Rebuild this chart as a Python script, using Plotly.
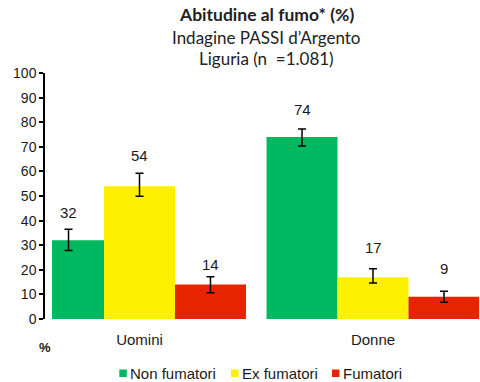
import plotly.graph_objects as go

# Data
groups = ["Uomini", "Donne"]
series = ["Non fumatori", "Ex fumatori", "Fumatori"]
values = {
    "Non fumatori": [32, 74],
    "Ex fumatori": [54, 17],
    "Fumatori": [14, 9],
}
ci_low = {
    "Non fumatori": [27.8, 70.3],
    "Ex fumatori": [49.9, 14.6],
    "Fumatori": [10.7, 6.8],
}
ci_high = {
    "Non fumatori": [36.5, 77.2],
    "Ex fumatori": [59.2, 20.4],
    "Fumatori": [17.2, 11.3],
}
y_ticks = [0, 10, 20, 30, 40, 50, 60, 70, 80, 90, 100]

colors = {
    "Non fumatori": "rgb(0,184,96)",
    "Ex fumatori": "rgb(255,240,0)",
    "Fumatori": "rgb(230,36,0)",
}

W, H = 480, 382
ML, MR, MT, MB = 44, 1, 73, 63
PW, PH = W - ML - MR, H - MT - MB


def px(x):
    return (x - ML) / PW


def py(y):
    return (H - MB - y) / PH


BARGAP = 0.088
bar_w = (1 - BARGAP) / len(series)
xpos = list(range(len(groups)))

fig = go.Figure()
for s in series:
    v = values[s]
    fig.add_trace(go.Bar(
        name=s, x=xpos, y=v,
        marker=dict(color=colors[s], line=dict(width=0)),
        error_y=dict(
            type="data", symmetric=False,
            array=[h - b for h, b in zip(ci_high[s], v)],
            arrayminus=[b - l for l, b in zip(ci_low[s], v)],
            color="black", thickness=1.5, width=4,
        ),
        showlegend=False,
    ))

# value labels above each bar
label_shift = {
    "Non fumatori": [27.5, 27.2],
    "Ex fumatori": [30.4, 29.2],
    "Fumatori": [19.6, 28.6],
}
ann = []
for j, s in enumerate(series):
    for i in xpos:
        ann.append(dict(
            x=i + (j - 1) * bar_w, y=values[s][i], xref="x", yref="y",
            text=str(values[s][i]), showarrow=False, yanchor="middle",
            yshift=label_shift[s][i],
            font=dict(family="Liberation Sans", size=15, color="#1a1a1a"),
        ))

# title block
title_lines = [
    ("<b>Abitudine al fumo* (%)</b>", 15, 17.5),
    ("Indagine PASSI d\u2019Argento", 37, 17),
    ("Liguria (n \u00a0=1.081)", 58.5, 17),
]
for t, yy, fs in title_lines:
    ann.append(dict(
        x=px(266), y=py(yy), xref="paper", yref="paper", text=t,
        showarrow=False, xanchor="center", yanchor="middle",
        font=dict(family="Lato", size=fs, color="#222222"),
    ))

# unit label
ann.append(dict(
    x=px(45), y=py(347), xref="paper", yref="paper", text="<b>%</b>",
    showarrow=False, xanchor="center", yanchor="middle",
    font=dict(family="Liberation Sans", size=13, color="#1a1a1a"),
))

# legend drawn as swatches + text
legend_x = [119.3, 231, 332]
shapes = []
for s, lx in zip(series, legend_x):
    shapes.append(dict(
        type="rect", xref="paper", yref="paper",
        x0=px(lx), x1=px(lx + 7.5), y0=py(377), y1=py(369.5),
        fillcolor=colors[s], line=dict(width=0),
    ))
    ann.append(dict(
        x=px(lx + 9), y=py(373.5), xref="paper", yref="paper", text=s,
        showarrow=False, xanchor="left", yanchor="middle",
        font=dict(family="Liberation Sans", size=15, color="#1a1a1a"),
    ))

x_lo = (52 - 139.5) / 233.5
x_hi = (479 - 139.5) / 233.5

fig.update_layout(
    width=W, height=H,
    margin=dict(l=ML, r=MR, t=MT, b=MB),
    paper_bgcolor="white", plot_bgcolor="white",
    barmode="group", bargap=BARGAP, bargroupgap=0,
    annotations=ann, shapes=shapes,
    xaxis=dict(
        domain=[px(52), 1], range=[x_lo, x_hi],
        tickmode="array", tickvals=xpos, ticktext=groups,
        ticks="", showline=False, showgrid=False, zeroline=False,
        tickfont=dict(family="Liberation Sans", size=15, color="#1a1a1a"),
        ticklabelstandoff=10,
    ),
    yaxis=dict(
        anchor="free", position=0, range=[0, 100],
        tickmode="array", tickvals=y_ticks,
        ticks="outside", ticklen=4, tickwidth=1.5, tickcolor="black",
        showline=True, linecolor="black", linewidth=1.5,
        showgrid=False, zeroline=False,
        tickfont=dict(family="Liberation Sans", size=14, color="#1a1a1a"),
    ),
)

fig.write_html("out.html")
